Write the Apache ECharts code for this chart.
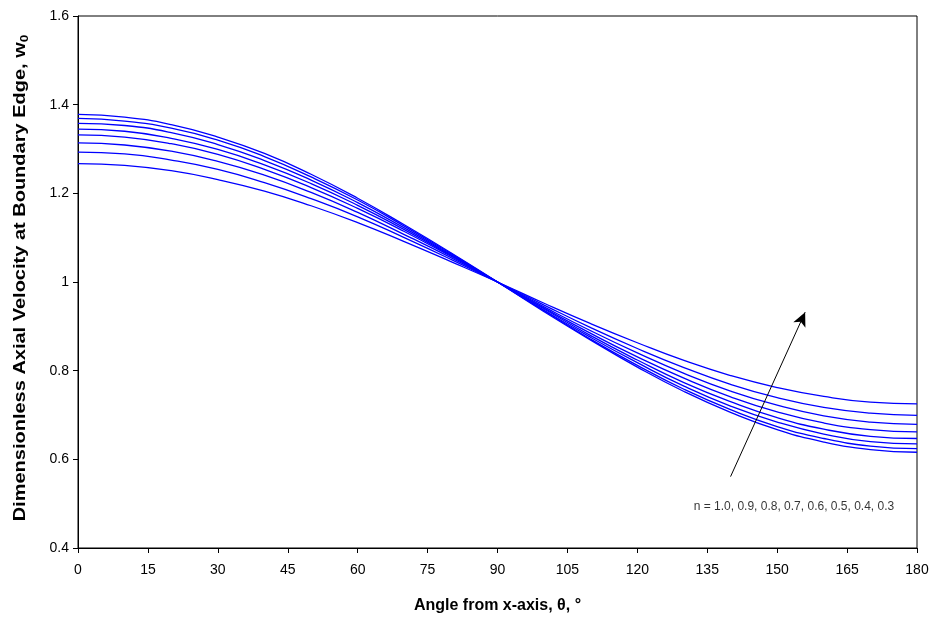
<!DOCTYPE html>
<html>
<head>
<meta charset="utf-8">
<script src="https://cdn.jsdelivr.net/npm/echarts@6/dist/echarts.min.js"></script>
<style>html,body{margin:0;padding:0;background:#fff}#c{width:936px;height:626px}</style>
</head>
<body>
<div id="c"></div>
<script>
// Angle from x-axis (degrees)
const angles = [0, 10, 20, 30, 40, 50, 60, 70, 80, 90, 100, 110, 120, 130, 140, 150, 160, 170, 180];
const nLabels = ['1.0', '0.9', '0.8', '0.7', '0.6', '0.5', '0.4', '0.3'];
// Dimensionless axial velocity at boundary edge, per n
const w_n10 = [1.378, 1.372, 1.355, 1.327, 1.290, 1.243, 1.189, 1.129, 1.066, 1.000, 0.933, 0.869, 0.808, 0.753, 0.706, 0.667, 0.639, 0.622, 0.616];
const w_n09 = [1.369, 1.363, 1.347, 1.320, 1.283, 1.237, 1.185, 1.126, 1.064, 1.000, 0.935, 0.871, 0.812, 0.758, 0.712, 0.674, 0.647, 0.630, 0.624];
const w_n08 = [1.358, 1.353, 1.337, 1.310, 1.274, 1.230, 1.179, 1.122, 1.062, 1.000, 0.936, 0.875, 0.818, 0.765, 0.720, 0.684, 0.657, 0.640, 0.635];
const w_n07 = [1.345, 1.340, 1.324, 1.299, 1.264, 1.222, 1.173, 1.118, 1.060, 1.000, 0.939, 0.879, 0.824, 0.773, 0.730, 0.694, 0.668, 0.652, 0.647];
const w_n06 = [1.332, 1.327, 1.312, 1.288, 1.254, 1.213, 1.166, 1.114, 1.058, 1.000, 0.941, 0.884, 0.831, 0.783, 0.741, 0.707, 0.682, 0.667, 0.662];
const w_n05 = [1.314, 1.309, 1.295, 1.272, 1.241, 1.202, 1.157, 1.107, 1.055, 1.000, 0.944, 0.890, 0.840, 0.794, 0.754, 0.722, 0.698, 0.684, 0.679];
const w_n04 = [1.293, 1.289, 1.275, 1.254, 1.224, 1.188, 1.147, 1.100, 1.051, 1.000, 0.948, 0.897, 0.850, 0.807, 0.769, 0.739, 0.717, 0.704, 0.699];
const w_n03 = [1.267, 1.263, 1.251, 1.231, 1.205, 1.172, 1.134, 1.091, 1.046, 1.000, 0.952, 0.906, 0.863, 0.823, 0.789, 0.762, 0.742, 0.729, 0.725];
const allSeries = [w_n10, w_n09, w_n08, w_n07, w_n06, w_n05, w_n04, w_n03];
// annotation
const arrowTail = [140, 0.561];
const arrowHead = [156, 0.932];
const noteText = 'n = 1.0, 0.9, 0.8, 0.7, 0.6, 0.5, 0.4, 0.3';
const notePos = [153.6, 0.493];
const xTicks = { min: 0, max: 180, step: 15 };
const yTicks = { min: 0.4, max: 1.6, step: 0.2 };
const xTitle = 'Angle from x-axis, θ, °';
const yTitleMain = 'Dimensionless Axial Velocity at Boundary Edge, w';
const yTitleSub = '0';

const FONT = '"Liberation Sans", Arial, sans-serif';
const chart = echarts.init(document.getElementById('c'), null, { renderer: 'canvas' });

const series = allSeries.map((vals, i) => ({
  name: 'n = ' + nLabels[i],
  type: 'line',
  data: angles.map((a, k) => [a, vals[k]]),
  smooth: true,
  showSymbol: false,
  symbol: 'none',
  lineStyle: { color: '#0000FF', width: 1.3 },
  z: 2
}));

series.push({
  type: 'line',
  data: [],
  markLine: {
    silent: true,
    symbol: ['none', 'arrow'],
    symbolSize: [10, 14],
    lineStyle: { color: '#000', width: 1, type: 'solid' },
    label: { show: false },
    data: [[{ coord: arrowTail }, { coord: arrowHead }]]
  }
});

series.push({
  type: 'scatter',
  data: [notePos],
  symbolSize: 0,
  silent: true,
  label: {
    show: true,
    position: 'inside',
    formatter: noteText,
    color: '#000',
    fontSize: 12,
    fontFamily: FONT
  }
});

chart.setOption({
  backgroundColor: '#fff',
  animation: false,
  grid: { left: 78, right: 19, top: 16, bottom: 78, show: true, borderColor: '#000', borderWidth: 1 },
  graphic: [{
    type: 'text',
    x: 21, y: 278,
    rotation: Math.PI / 2,
    scaleX: 1.25,
    silent: true,
    style: {
      text: '{a|' + yTitleMain + '}{s|' + yTitleSub + '}',
      align: 'center',
      verticalAlign: 'middle',
      fill: '#000',
      font: 'bold 16px ' + FONT,
      rich: {
        a: { fontSize: 16, fontWeight: 'bold', fill: '#000', color: '#000', fontFamily: FONT },
        s: { fontSize: 11, fontWeight: 'bold', fill: '#000', color: '#000', fontFamily: FONT, verticalAlign: 'bottom', padding: [7, 0, 0, 0] }
      }
    }
  }],
  xAxis: {
    type: 'value',
    min: xTicks.min, max: xTicks.max, interval: xTicks.step,
    name: xTitle,
    nameLocation: 'middle',
    nameGap: 50,
    nameTextStyle: { fontSize: 16, fontWeight: 'bold', color: '#000', fontFamily: FONT },
    axisLine: { lineStyle: { color: '#000', width: 1 } },
    axisTick: { show: true, inside: false, length: 5, lineStyle: { color: '#000' } },
    axisLabel: { color: '#000', fontSize: 14, margin: 15, fontFamily: FONT },
    splitLine: { show: false }
  },
  yAxis: {
    type: 'value',
    min: yTicks.min, max: yTicks.max, interval: yTicks.step,
    axisLine: { show: true, lineStyle: { color: '#000', width: 1 } },
    axisTick: { show: true, inside: false, length: 5, lineStyle: { color: '#000' } },
    axisLabel: { color: '#000', fontSize: 14, margin: 9, fontFamily: FONT },
    splitLine: { show: false }
  },
  series: series
});
</script>
</body>
</html>
